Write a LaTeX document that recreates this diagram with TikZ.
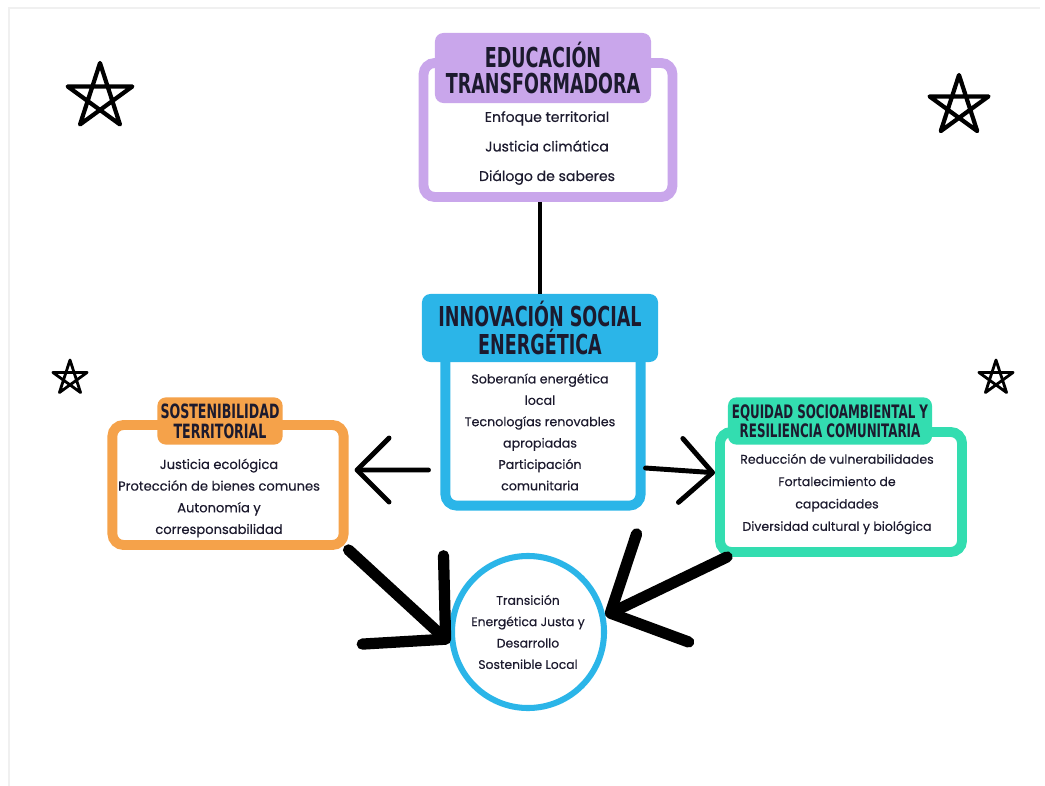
\documentclass[tikz,border=0pt]{standalone}
\usepackage{fontspec}
\usepackage{tikz}
\usetikzlibrary{positioning,arrows.meta}
\setmainfont{Poppins}[UprightFeatures={FakeBold=0.4}]
\newfontfamily\rotulo{DejaVu Sans}[FakeStretch=0.64]

\definecolor{morado}{HTML}{C9A6EB}
\definecolor{celeste}{HTML}{2BB5E8}
\definecolor{naranja}{HTML}{F5A24A}
\definecolor{turquesa}{HTML}{33DDB0}
\definecolor{tinta}{HTML}{1C1A2E}

\newcommand\titgrande{\rotulo\bfseries\fontsize{19.5}{18}\selectfont}

\begin{document}
\begin{tikzpicture}[x=0.025cm, y=-0.025cm,
    marco/.style={draw=#1, line width=7pt, rounded corners=8pt, fill=white, inner sep=0pt},
    pestana/.style={fill=#1, rounded corners=6pt, inner sep=0pt, align=center, text=tinta},
    cuerpo/.style={align=center, text=tinta},
    flecha/.style={line width=3.5pt, line cap=round, -{Straight Barb[length=0.8cm, width=1.6cm, round]}},
    pincel/.style={line width=8pt, line cap=round, -{Straight Barb[length=1.45cm, width=3cm, round]}},
    estrella/.style={line join=round, line cap=round}]
    \useasboundingbox (0,0) rectangle (1045,786);
    \draw[gray!12, line width=1.5pt] (9,786) -- (9,8) -- (1040,8);

    \foreach \cx/\cy/\r/\g in {100/97/34/3pt, 959/106/31/3pt, 70/378/18/2pt, 996/378/18/2pt}
        \draw[estrella, line width=\g] (\cx,\cy) +(270:\r) -- +(54:\r) -- +(198:\r) -- +(342:\r) -- +(126:\r) -- cycle;

    \node[marco=morado, minimum width=6.22cm, minimum height=3.35cm] (edu) at (548,130) {};
    \node[pestana=morado, minimum width=5.4cm, minimum height=1.75cm, font=\titgrande] (edutit) at (543,68) {EDUCACIÓN\\TRANSFORMADORA};
    \node[cuerpo, font=\fontsize{10}{21}\selectfont] (edutxt) at (547,148) {Enfoque territorial\\Justicia climática\\Diálogo de saberes};

    \node[marco=celeste, minimum width=4.88cm, minimum height=4.88cm] (innov) at (543,408) {};
    \node[pestana=celeste, minimum width=5.9cm, minimum height=1.7cm, font=\titgrande] (innovtit) at (540,328) {INNOVACIÓN SOCIAL\\ENERGÉTICA};
    \node[cuerpo, font=\fontsize{9}{15.2}\selectfont] (innovtxt) at (540,432) {Soberanía energética\\local\\Tecnologías renovables\\apropiadas\\Participación\\comunitaria};

    \node[marco=naranja, minimum width=5.78cm, minimum height=3cm] (sost) at (228,485) {};
    \node[pestana=naranja, minimum width=3.13cm, minimum height=1.18cm, font=\rotulo\bfseries\fontsize{14}{14.2}\selectfont] (sosttit) at (220,421) {SOSTENIBILIDAD\\TERRITORIAL};
    \node[cuerpo, font=\fontsize{9.3}{15.4}\selectfont] (sosttxt) at (219,498) {Justicia ecológica\\Protección de bienes comunes\\Autonomía y\\corresponsabilidad};

    \node[marco=turquesa, minimum width=6.05cm, minimum height=3cm] (equi) at (841,492) {};
    \node[pestana=turquesa, minimum width=5.1cm, minimum height=1.18cm, font=\rotulo\bfseries\fontsize{13.2}{13.5}\selectfont] (equitit) at (830,421) {EQUIDAD SOCIOAMBIENTAL Y\\RESILIENCIA COMUNITARIA};
    \node[cuerpo, font=\fontsize{8.9}{15.9}\selectfont] (equitxt) at (837,494) {Reducción de vulnerabilidades\\Fortalecimiento de\\capacidades\\Diversidad cultural y biológica};

    \node[circle, draw=celeste, line width=4.3pt, minimum size=3.8cm, cuerpo, font=\fontsize{8.8}{15.2}\selectfont] (trans) at (528,632) {Transición\\Energética Justa y\\Desarrollo\\Sostenible Local};

    \draw[line width=3pt] (edu.south -| innovtit.north) -- (innovtit.north);
    \draw[flecha, shorten <=0.3cm, shorten >=0.15cm] ([yshift=-1.55cm]innov.west) -- ([yshift=0.375cm]sost.east);
    \draw[flecha] ([yshift=-1.5cm]innov.east) -- ([yshift=0.48cm]equi.west);
    \draw[pincel] (sost.south east) -- (trans.188);
    \draw[pincel] ([xshift=0.3cm]equi.south west) -- (trans.12);
\end{tikzpicture}
\end{document}
